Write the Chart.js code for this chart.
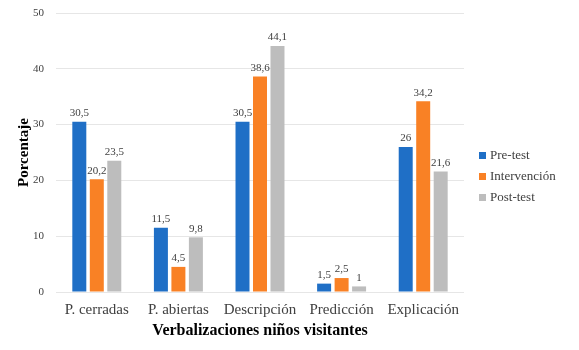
<!DOCTYPE html>
<html>
<head>
<meta charset="utf-8">
<script src="https://cdn.jsdelivr.net/npm/chart.js@4.4.0/dist/chart.umd.min.js"></script>
<style>
  html, body { margin: 0; padding: 0; background: #fff; }
  #wrap { width: 579px; height: 350px; }
</style>
</head>
<body>
<div id="wrap"><canvas id="grafico"></canvas></div>
<script>
// Datos del gráfico
const categorias = ['P. cerradas', 'P. abiertas', 'Descripción', 'Predicción', 'Explicación'];
const preTest = [30.5, 11.5, 30.5, 1.5, 26];
const intervencion = [20.2, 4.5, 38.6, 2.5, 34.2];
const postTest = [23.5, 9.8, 44.1, 1, 21.6];

const fuente = "'Liberation Serif', 'DejaVu Serif', serif";
Chart.defaults.font.family = fuente;

// Etiquetas con el valor encima de cada barra (coma decimal)
const etiquetasValor = {
    id: 'etiquetasValor',
    afterDatasetsDraw(chart) {
        const c = chart.ctx;
        c.save();
        c.font = '11px ' + fuente;
        c.fillStyle = '#404040';
        c.textAlign = 'center';
        c.textBaseline = 'bottom';
        chart.data.datasets.forEach((ds, i) => {
            chart.getDatasetMeta(i).data.forEach((bar, j) => {
                const txt = String(ds.data[j]).replace('.', ',');
                c.fillText(txt, bar.x, bar.y - 3);
            });
        });
        c.restore();
    }
};

// Leyenda dibujada a mano a la derecha
const leyenda = {
    id: 'leyenda',
    afterDraw(chart) {
        const c = chart.ctx;
        const x = chart.chartArea.right + 15;
        const yCentro = chart.height / 2 + 2;
        c.save();
        c.font = '13px ' + fuente;
        c.textBaseline = 'middle';
        c.textAlign = 'left';
        chart.data.datasets.forEach((ds, i) => {
            const y = yCentro + (i - 1) * 21;
            c.fillStyle = ds.backgroundColor;
            c.fillRect(x, y - 4, 7, 7);
            c.fillStyle = '#404040';
            c.fillText(ds.label, x + 11, y);
        });
        c.restore();
    }
};

new Chart(document.getElementById('grafico'), {
    type: 'bar',
    data: {
        labels: categorias,
        datasets: [
            { label: 'Pre-test', data: preTest, backgroundColor: '#1f6fc6' },
            { label: 'Intervención', data: intervencion, backgroundColor: '#f98125' },
            { label: 'Post-test', data: postTest, backgroundColor: '#bdbdbd' }
        ]
    },
    options: {
        responsive: true,
        maintainAspectRatio: false,
        animation: false,
        datasets: {
            bar: { categoryPercentage: 0.643, barPercentage: 0.8 }
        },
        layout: { padding: { top: 0, left: 0, right: 115, bottom: 10 } },
        scales: {
            x: {
                grid: { display: false, drawTicks: false },
                border: { display: false },
                ticks: {
                    font: { size: 15 },
                    color: '#404040',
                    padding: 9,
                    maxRotation: 0,
                    minRotation: 0,
                    autoSkip: false
                },
                title: {
                    display: true,
                    text: 'Verbalizaciones niños visitantes',
                    font: { size: 16, weight: 'bold' },
                    color: '#000',
                    padding: 0
                },
                afterFit(scale) { scale.height = 48; }
            },
            y: {
                min: 0,
                max: 50,
                ticks: { stepSize: 10, font: { size: 11 }, color: '#404040', padding: 12 },
                grid: { color: '#e6e6e6', drawTicks: false },
                border: { display: false },
                title: {
                    display: true,
                    text: 'Porcentaje',
                    font: { size: 15, weight: 'bold' },
                    color: '#000',
                    padding: { top: 15, bottom: 0 }
                },
                afterFit(scale) {
                    scale.width = 56;
                    scale.paddingTop = 13;
                }
            }
        },
        plugins: {
            legend: { display: false },
            tooltip: { enabled: false }
        }
    },
    plugins: [etiquetasValor, leyenda]
});
</script>
</body>
</html>
